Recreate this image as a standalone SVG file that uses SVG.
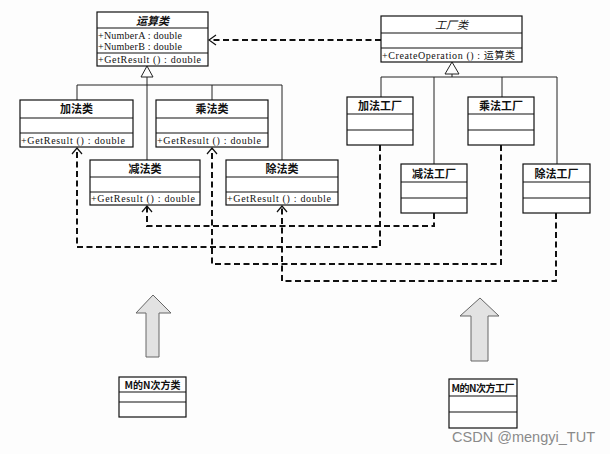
<svg xmlns="http://www.w3.org/2000/svg" width="610" height="454" viewBox="0 0 610 454">
<style>
.box{fill:#fff;stroke:#111;stroke-width:1.2}
.div{stroke:#111;stroke-width:1.2}
.t{font-family:"Noto Sans CJK SC","Noto Sans CJK JP",sans-serif;font-weight:bold;font-size:11px;fill:#111;text-anchor:middle}
.ti{font-family:"Noto Sans CJK SC",sans-serif;font-style:italic;font-weight:bold;font-size:11px;fill:#111;text-anchor:middle}
.m{font-family:"Liberation Serif","Noto Sans CJK SC",serif;font-size:10px;fill:#111}
.inh{fill:none;stroke:#222;stroke-width:1}
.dep{fill:none;stroke:#111;stroke-width:2;stroke-dasharray:6 3.5}
.ah{fill:none;stroke:#111;stroke-width:1.2}
.blk{fill:#e2e2e2;stroke:#666;stroke-width:1}
.wm{font-family:"Liberation Sans",Arial,sans-serif;font-size:14.5px;fill:#8a8a8a}
</style>
<rect width="610" height="454" fill="#fdfdfd"/>

<g id="connectors">
  <!-- inheritance left -->
  <polygon class="inh" points="147,66 153,77 141,77" fill="#fff"/>
  <path class="inh" d="M147,77 V160 M77,85 H282 M77,85 V100 M212,85 V100 M282,85 V160"/>
  <!-- inheritance right -->
  <polygon class="inh" points="452,62 459,74 445,74" fill="#fff"/>
  <path class="inh" d="M452,74 V77 M381,77 H557 M381,77 V97 M434,77 V164 M502,77 V97 M557,77 V164"/>
  <!-- dependency factory -> 运算类 -->
  <path class="dep" d="M381,40 H210"/>
  <path class="ah" d="M216,35 L209,40 L216,45"/>
  <!-- dependencies factories -> products -->
  <path class="dep" d="M434,213 V226 H147 V207"/>
  <path class="dep" d="M380,145 V247 H77 V149"/>
  <path class="dep" d="M501,145 V264 H212 V149"/>
  <path class="dep" d="M556,213 V281 H282 V207"/>
  <path class="ah" d="M142,212 L147,206 L152,212 M72,154 L77,148 L82,154 M207,154 L212,148 L217,154 M277,212 L282,206 L287,212"/>
</g>

<g id="yunsuan">
  <rect class="box" x="97" y="12" width="111" height="54"/>
  <path class="div" d="M97,28 H208 M97,53 H208"/>
  <text class="ti" x="152.5" y="24.5">运算类</text>
  <text class="m" x="98" y="39" textLength="84">+NumberA : double</text>
  <text class="m" x="98" y="50" textLength="84">+NumberB : double</text>
  <text class="m" x="98" y="63" textLength="103">+GetResult () : double</text>
</g>

<g id="gongchang">
  <rect class="box" x="381" y="16" width="141" height="46"/>
  <path class="div" d="M381,33 H522 M381,48 H522"/>
  <text class="ti" x="451.5" y="29" style="font-weight:normal">工厂类</text>
  <text class="m" x="382" y="59" textLength="133">+CreateOperation () : 运算类</text>
</g>

<g id="jiafa">
  <rect class="box" x="20" y="100" width="113" height="47"/>
  <path class="div" d="M20,118 H133 M20,133 H133"/>
  <text class="t" x="76.5" y="113">加法类</text>
  <text class="m" x="21" y="144" textLength="104">+GetResult () : double</text>
</g>

<g id="chengfa">
  <rect class="box" x="156" y="100" width="112" height="47"/>
  <path class="div" d="M156,118 H268 M156,133 H268"/>
  <text class="t" x="212" y="113">乘法类</text>
  <text class="m" x="157" y="144" textLength="104">+GetResult () : double</text>
</g>

<g id="jianfa">
  <rect class="box" x="90" y="160" width="110" height="45"/>
  <path class="div" d="M90,177 H200 M90,192 H200"/>
  <text class="t" x="145" y="172.5">减法类</text>
  <text class="m" x="91" y="202" textLength="104">+GetResult () : double</text>
</g>

<g id="chufa">
  <rect class="box" x="226" y="160" width="112" height="45"/>
  <path class="div" d="M226,177 H338 M226,192 H338"/>
  <text class="t" x="282" y="172.5">除法类</text>
  <text class="m" x="227" y="202" textLength="104">+GetResult () : double</text>
</g>

<g id="jiafa-gc">
  <rect class="box" x="347" y="97" width="66" height="48"/>
  <path class="div" d="M347,114 H413 M347,130 H413"/>
  <text class="t" x="380" y="110">加法工厂</text>
</g>

<g id="chengfa-gc">
  <rect class="box" x="468" y="97" width="66" height="48"/>
  <path class="div" d="M468,114 H534 M468,130 H534"/>
  <text class="t" x="501" y="110">乘法工厂</text>
</g>

<g id="jianfa-gc">
  <rect class="box" x="401" y="164" width="66" height="49"/>
  <path class="div" d="M401,182 H467 M401,198 H467"/>
  <text class="t" x="434" y="177.5">减法工厂</text>
</g>

<g id="chufa-gc">
  <rect class="box" x="523" y="164" width="67" height="49"/>
  <path class="div" d="M523,182 H590 M523,198 H590"/>
  <text class="t" x="556.5" y="177.5">除法工厂</text>
</g>

<g id="arrow-left">
  <polygon class="blk" points="153,295 171,313 159,313 159,357 146,357 146,313 136,313"/>
</g>
<g id="arrow-right">
  <polygon class="blk" points="480,298 499,316 488,316 488,361 471,361 471,316 460,316"/>
</g>

<g id="mn-class">
  <rect class="box" x="119" y="377" width="67" height="40"/>
  <path class="div" d="M119,392 H186 M119,402 H186"/>
  <text class="t" x="152.5" y="388.5" style="font-size:10px">M的N次方类</text>
</g>

<g id="mn-factory">
  <rect class="box" x="449" y="379" width="68" height="49"/>
  <path class="div" d="M449,396 H517 M449,412 H517"/>
  <text class="t" x="483" y="391.5" style="font-size:10px" textLength="63">M的N次方工厂</text>
</g>

<text class="wm" x="452" y="442" textLength="143">CSDN @mengyi_TUT</text>
</svg>
